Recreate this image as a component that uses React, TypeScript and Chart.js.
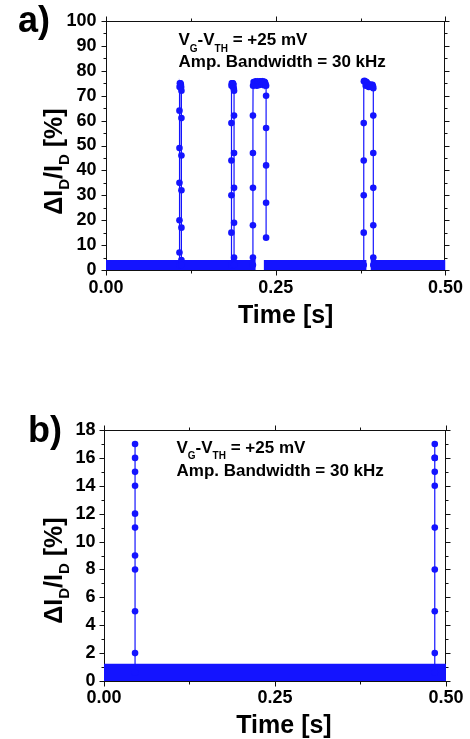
import { useEffect, useRef } from 'react';
import { Chart, registerables } from 'chart.js';

Chart.register(...registerables);

const FONT = '"Liberation Sans", Arial, Helvetica, sans-serif';
const BLUE = 'rgb(20,20,255)';
const INK = '#111';

// ---------- Panel a data ----------
const aXMajor = [0, 0.25, 0.5];
const aXMinor = [0.125, 0.375];
const aYMajor = [0, 10, 20, 30, 40, 50, 60, 70, 80, 90, 100];
const aYMinor = [5, 15, 25, 35, 45, 55, 65, 75, 85, 95];

// baseline band segments (start, end) and its level
const aBandStart = [0, 0.2325, 0.3899];
const aBandEnd = [0.2203, 0.3835, 0.5];
const aBandLevel = 1.7;

const aSpike1T = [0.1082, 0.1082, 0.1082, 0.1082, 0.1082, 0.1082, 0.1084, 0.1088, 0.1092, 0.1097, 0.1102, 0.1107, 0.1111, 0.1111, 0.1111, 0.1111, 0.1111, 0.1111, 0.1111];
const aSpike1V = [2, 7, 20, 35, 49, 64, 73.5, 75, 74, 75, 74.5, 73.5, 72, 61, 46, 32, 17, 4, 2];

const aSpike2T = [0.1847, 0.1847, 0.1847, 0.1847, 0.1847, 0.1849, 0.1853, 0.1857, 0.1861, 0.1865, 0.1869, 0.1873, 0.1877, 0.1881, 0.1886, 0.1886, 0.1886, 0.1886, 0.1886, 0.1886, 0.1886];
const aSpike2V = [2, 15, 30, 44, 59, 74, 75, 74.5, 75, 74, 75, 73.5, 74.5, 73, 72, 62, 47, 33, 19, 5, 2];

const aSpike3T = [0.2164, 0.2164, 0.2164, 0.2164, 0.2164, 0.2164, 0.2166, 0.2174, 0.2182, 0.219, 0.2198, 0.2206, 0.2214, 0.2222, 0.223, 0.2238, 0.2246, 0.2254, 0.2262, 0.227, 0.2278, 0.2286, 0.2294, 0.2302, 0.231, 0.2318, 0.2326, 0.2334, 0.2342, 0.235, 0.2358, 0.2358, 0.2358, 0.2358, 0.2358, 0.2358];
const aSpike3V = [2, 5, 18, 33, 47, 62, 74, 75.5, 75, 74.5, 75.5, 75.8, 75.2, 74, 75.5, 75.7, 75, 75.6, 74.3, 75.8, 75.4, 75.7, 74.8, 75.5, 75.8, 75.1, 74.2, 75.6, 75.3, 74.6, 74, 70, 57, 42, 27, 13];

const aSpike4T = [0.3796, 0.3796, 0.3796, 0.3796, 0.3796, 0.3798, 0.3807, 0.3816, 0.3825, 0.3834, 0.3843, 0.3852, 0.3861, 0.387, 0.3879, 0.3888, 0.3897, 0.3906, 0.3915, 0.3924, 0.3932, 0.3937, 0.3937, 0.3937, 0.3937, 0.3937, 0.3937, 0.3937];
const aSpike4V = [2, 15, 30, 44, 59, 75.8, 76, 75.5, 74, 75.6, 74.5, 75, 74, 73.5, 74.2, 73.8, 74.5, 73.6, 74, 74.4, 73.8, 73, 62, 47, 33, 18, 5, 2];

// ---------- Panel b data ----------
const bXMajor = [0, 0.25, 0.5];
const bXMinor = [0.125, 0.375];
const bYMajor = [0, 2, 4, 6, 8, 10, 12, 14, 16, 18];
const bYMinor = [1, 3, 5, 7, 9, 11, 13, 15, 17];

const bBandStart = [0];
const bBandEnd = [0.5];
const bBandLevel = 0.61;

const bSpike1T = [0.0454, 0.0454, 0.0454, 0.0454, 0.0454, 0.0454, 0.0454, 0.0454, 0.0454, 0.0454, 0.0454];
const bSpike1V = [0.6, 2, 5, 8, 9, 11, 12, 14, 15, 16, 17];

const bSpike2T = [0.4836, 0.4836, 0.4836, 0.4836, 0.4836, 0.4836, 0.4836, 0.4836, 0.4836, 0.4836];
const bSpike2V = [0.6, 2, 5, 8, 11, 14, 15, 16, 17, 16];

type Part = [string, boolean];
const annLine1: Part[] = [['V', false], ['G', true], ['-V', false], ['TH', true], [' = +25 mV', false]];
const annLine2 = 'Amp. Bandwidth = 30 kHz';
const yTitle: Part[] = [['ΔI', false], ['D', true], ['/I', false], ['D', true], [' [%]', false]];
const xTitle = 'Time [s]';

function zip(t: number[], v: number[]) {
  return t.map((x, i) => ({ x, y: v[i] }));
}
function bandData(s: number[], e: number[], level: number) {
  const out: { x: number; y: number | null }[] = [];
  s.forEach((x, i) => {
    if (i > 0) out.push({ x: (e[i - 1] + x) / 2, y: null });
    out.push({ x, y: level });
    out.push({ x: e[i], y: level });
  });
  return out;
}

function drawRich(ctx: CanvasRenderingContext2D, parts: Part[], x: number, y: number, main: number, sub: number, shift: number, measureOnly = false) {
  let cx = x;
  for (const [t, s] of parts) {
    ctx.font = `bold ${s ? sub : main}px ${FONT}`;
    if (!measureOnly) ctx.fillText(t, cx, s ? y + shift : y);
    cx += ctx.measureText(t).width;
  }
  return cx - x;
}

type Panel = {
  top: number; height: number; yWidth: number; padTop: number; padRight: number; xHeight: number;
  yMax: number; yStep: number; xMajor: number[]; xMinor: number[]; yMajor: number[]; yMinor: number[];
  padX: number; padY: number; label: string; labelX: number; labelY: number;
  titleDX: number; titleDY: number; yTitleDX: number; yTitleDY: number;
  annDX: number; annDY1: number; annDY2: number; bandWidth: number;
  band: { x: number; y: number | null }[]; spikes: { x: number; y: number }[][];
};

const panels: Panel[] = [
  {
    top: 0, height: 340, yWidth: 106, padTop: 21, padRight: 22, xHeight: 70,
    yMax: 100, yStep: 10, xMajor: aXMajor, xMinor: aXMinor, yMajor: aYMajor, yMinor: aYMinor,
    padX: 7, padY: 9.5, label: 'a)', labelX: 18, labelY: 32,
    titleDX: 10, titleDY: 53, yTitleDX: -44, yTitleDY: 16,
    annDX: 72.5, annDY1: 24, annDY2: 45.7, bandWidth: 11.5,
    band: bandData(aBandStart, aBandEnd, aBandLevel),
    spikes: [zip(aSpike1T, aSpike1V), zip(aSpike2T, aSpike2V), zip(aSpike3T, aSpike3V), zip(aSpike4T, aSpike4V)],
  },
  {
    top: 380, height: 359, yWidth: 104, padTop: 50, padRight: 21, xHeight: 58,
    yMax: 18, yStep: 2, xMajor: bXMajor, xMinor: bXMinor, yMajor: bYMajor, yMinor: bYMinor,
    padX: 6.5, padY: 8.5, label: 'b)', labelX: 28, labelY: 62,
    titleDX: 9, titleDY: 52, yTitleDX: -42, yTitleDY: 15,
    annDX: 72.5, annDY1: 22.7, annDY2: 45.7, bandWidth: 17.5,
    band: bandData(bBandStart, bBandEnd, bBandLevel),
    spikes: [zip(bSpike1T, bSpike1V), zip(bSpike2T, bSpike2V)],
  },
];

function makeChart(canvas: HTMLCanvasElement, p: Panel) {
  const decor = {
    id: 'decor',
    beforeDatasetsDraw(chart: any) {
      const { ctx, chartArea: a, scales } = chart;
      const xs = scales.x, ys = scales.y;
      ctx.save();
      ctx.strokeStyle = INK;
      ctx.lineWidth = 1;
      const L = Math.round(a.left) + 0.5, R = Math.round(a.right) - 0.5;
      const T = Math.round(a.top) + 0.5, B = Math.round(a.bottom) + 0.5;
      ctx.strokeRect(L, T, R - L, B - T);
      ctx.beginPath();
      const xt = (v: number, len: number) => {
        const px = Math.round(xs.getPixelForValue(v)) + 0.5;
        ctx.moveTo(px, B); ctx.lineTo(px, B + len);
        ctx.moveTo(px, T); ctx.lineTo(px, T - len);
      };
      const yt = (v: number, len: number) => {
        const py = Math.round(ys.getPixelForValue(v)) + 0.5;
        ctx.moveTo(L, py); ctx.lineTo(L - len, py);
        ctx.moveTo(R, py); ctx.lineTo(R + len, py);
      };
      p.xMajor.forEach((v) => xt(v, 5));
      p.xMinor.forEach((v) => xt(v, 3));
      p.yMajor.forEach((v) => yt(v, 5));
      p.yMinor.forEach((v) => yt(v, 3));
      ctx.stroke();
      ctx.restore();
    },
    afterDraw(chart: any) {
      const { ctx, chartArea: a } = chart;
      ctx.save();
      ctx.fillStyle = '#000';
      ctx.textBaseline = 'alphabetic';
      ctx.textAlign = 'left';
      // panel label
      ctx.font = `bold 36px ${FONT}`;
      ctx.fillText(p.label, p.labelX, p.labelY);
      // annotation
      drawRich(ctx, annLine1, a.left + p.annDX, a.top + p.annDY1, 17, 10, 6.5);
      ctx.font = `bold 17px ${FONT}`;
      ctx.fillText(annLine2, a.left + p.annDX, a.top + p.annDY2);
      // x title
      ctx.font = `bold 25px ${FONT}`;
      ctx.textAlign = 'center';
      ctx.fillText(xTitle, (a.left + a.right) / 2 + p.titleDX, a.bottom + p.titleDY);
      // y title
      ctx.textAlign = 'left';
      const w = drawRich(ctx, yTitle, 0, 0, 25, 15, 6.5, true);
      ctx.translate(a.left + p.yTitleDX, (a.top + a.bottom) / 2 + p.yTitleDY);
      ctx.rotate(-Math.PI / 2);
      drawRich(ctx, yTitle, -w / 2, 0, 25, 15, 6.5);
      ctx.restore();
    },
  };

  const tickFont = { family: FONT, size: 18, weight: 'bold' as const };
  const datasets: any[] = p.spikes.map((d) => ({
    data: d,
    showLine: true,
    borderColor: BLUE,
    borderWidth: 1.2,
    pointRadius: 3.3,
    pointBackgroundColor: BLUE,
    pointBorderWidth: 0,
    pointHoverRadius: 3.3,
  }));
  datasets.push({
    data: p.band,
    showLine: true,
    spanGaps: false,
    borderColor: BLUE,
    borderWidth: p.bandWidth,
    borderCapStyle: 'butt',
    pointRadius: 0,
    pointHoverRadius: 0,
  });

  return new Chart(canvas, {
    type: 'scatter',
    data: { datasets },
    plugins: [decor],
    options: {
      responsive: false,
      animation: false,
      events: [],
      layout: { padding: { left: 0, right: p.padRight, top: p.padTop, bottom: 0 } },
      plugins: { legend: { display: false }, tooltip: { enabled: false } },
      scales: {
        x: {
          type: 'linear',
          min: 0,
          max: 0.5,
          afterFit: (s: any) => { s.height = p.xHeight; },
          grid: { display: false, drawTicks: false },
          border: { display: false },
          ticks: {
            stepSize: 0.25,
            maxRotation: 0,
            autoSkip: false,
            padding: p.padX,
            color: '#000',
            font: tickFont,
            callback: (v: any) => Number(v).toFixed(2),
          },
        },
        y: {
          type: 'linear',
          min: 0,
          max: p.yMax,
          afterFit: (s: any) => { s.width = p.yWidth; },
          grid: { display: false, drawTicks: false },
          border: { display: false },
          ticks: {
            stepSize: p.yStep,
            autoSkip: false,
            padding: p.padY,
            color: '#000',
            font: tickFont,
          },
        },
      },
    } as any,
  });
}

function PanelChart({ p }: { p: Panel }) {
  const ref = useRef<HTMLCanvasElement>(null);
  useEffect(() => {
    if (!ref.current) return;
    const c = makeChart(ref.current, p);
    return () => c.destroy();
  }, [p]);
  return (
    <canvas
      ref={ref}
      width={470}
      height={p.height}
      style={{ position: 'absolute', left: 0, top: p.top, width: 470, height: p.height, display: 'block' }}
    />
  );
}

export default function App() {
  return (
    <div style={{ position: 'absolute', left: 0, top: 0, width: 470, height: 739, background: '#fff', overflow: 'hidden' }}>
      {panels.map((p, i) => (
        <PanelChart key={i} p={p} />
      ))}
    </div>
  );
}
